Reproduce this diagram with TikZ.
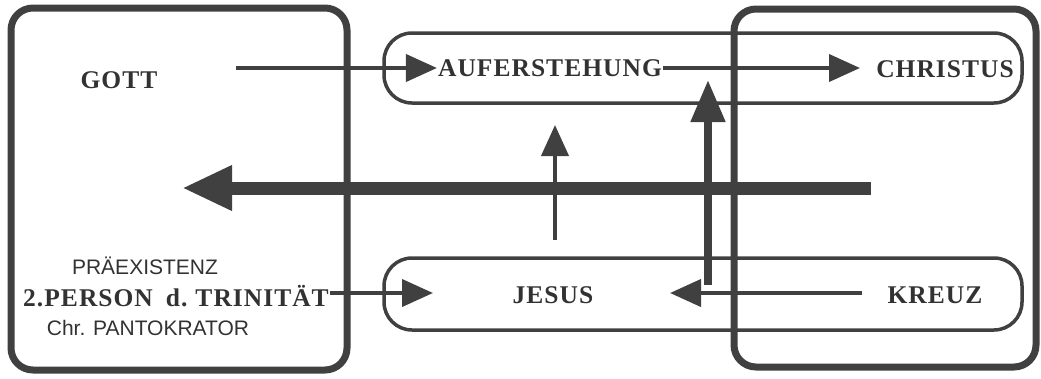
\documentclass[tikz,border=0pt]{standalone}
\usepackage{fontspec}
\setmainfont{Liberation Serif}
\newfontfamily\serifb[LetterSpace=4]{Liberation Serif}
\newfontfamily\sansl{Liberation Sans}
\usetikzlibrary{arrows.meta}
\definecolor{ink}{RGB}{64,64,64}
\definecolor{txt}{RGB}{50,50,50}
\tikzset{
  bigbox/.style={draw=ink, line width=7pt, rounded corners=22pt},
  rowbox/.style={draw=ink, line width=3.5pt, rounded corners=28pt},
  lab/.style={text=txt, inner sep=1pt, font=\serifb\bfseries\fontsize{25.5}{27}\selectfont},
  slab/.style={text=txt, inner sep=1pt, font=\sansl\fontsize{21}{23}\selectfont},
  thinarrow/.style={draw=ink, line width=4pt, -{Triangle[length=31pt,width=27pt]}},
  medarrow/.style={draw=ink, line width=8pt, -{Triangle[length=42pt,width=33pt]}},
  fatarrow/.style={draw=ink, line width=13pt, -{Triangle[length=50pt,width=42pt]}}
}
\begin{document}
\begin{tikzpicture}[x=1pt,y=-1pt]
\useasboundingbox (0,0) rectangle (1041,378);
% frames
\draw[bigbox] (11,8) rectangle (347,370);
\draw[bigbox] (734,9) rectangle (1036,367);
\draw[rowbox] (384,33) rectangle (1022,103);
\draw[rowbox] (384,258) rectangle (1022,330);
% texts
\node[lab] (gott) at (119,80) {GOTT};
\node[lab] (auf) at (550,68) {AUFERSTEHUNG};
\node[lab] (christus) at (945,69) {CHRISTUS};
\node[lab] (jesus) at (553,295) {JESUS};
\node[lab] (kreuz) at (935,295) {KREUZ};
\node[slab] (praex) at (145,266) {PRÄEXISTENZ};
\node[lab] (person) at (176,296) {2.PERSON\hspace{13pt}d.\hspace{8pt}TRINITÄT};
\node[slab] (pant) at (148,328) {Chr. PANTOKRATOR};
% free ends
\coordinate (gottR) at (236,68);
\coordinate (chrTip) at (860,68);
\coordinate (jesL) at (433,293);
\coordinate (jesR) at (670,293);
\coordinate (kreuzL) at (862,293);
\coordinate (upA0) at (555,240);
\coordinate (upA1) at (555,125);
\coordinate (upB0) at (708,285);
\coordinate (upB1) at (708,80);
\coordinate (fat0) at (871,188);
\coordinate (fat1) at (182,188);
% connectors
\draw[thinarrow] (gottR) -- (auf.west);
\draw[thinarrow] (auf.east) -- (chrTip);
\draw[thinarrow] (person.east |- jesL) -- (jesL);
\draw[thinarrow] (kreuzL) -- (jesR);
\draw[thinarrow] (upA0) -- (upA1);
\draw[medarrow] (upB0) -- (upB1);
\draw[fatarrow] (fat0) -- (fat1);
\end{tikzpicture}
\end{document}
